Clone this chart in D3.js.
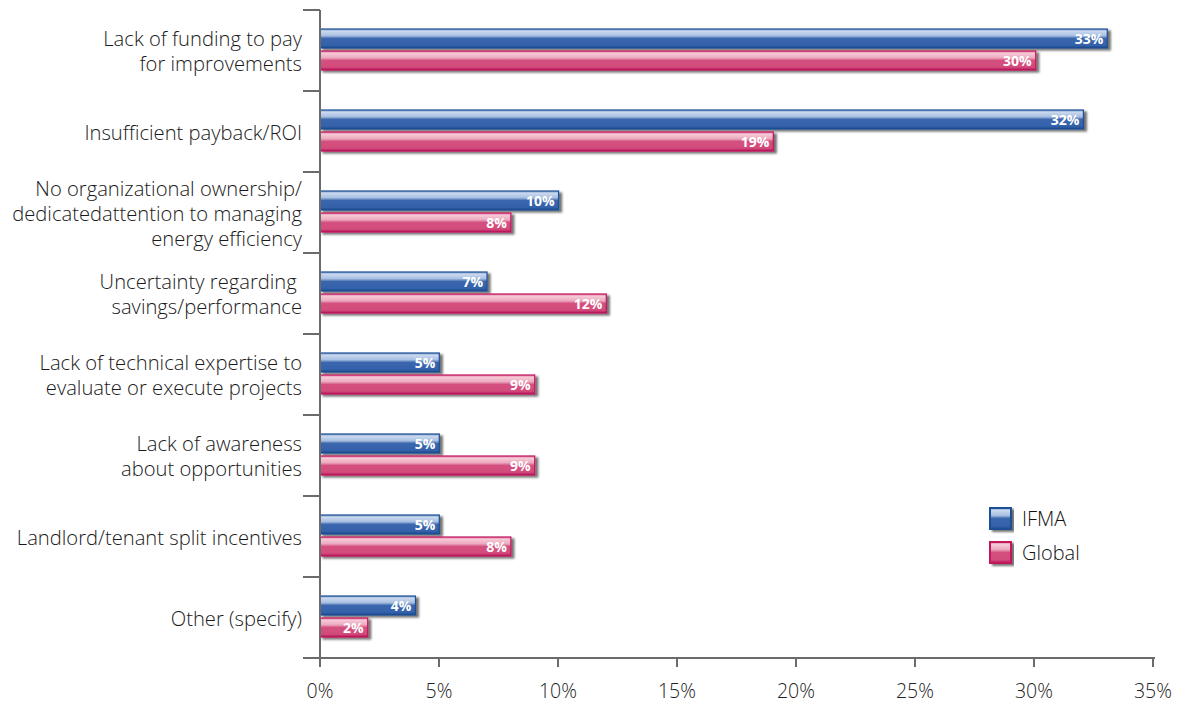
<!DOCTYPE html>
<html><head><meta charset="utf-8">
<script src="https://cdn.jsdelivr.net/npm/d3@7"></script>
<style>body{margin:0;background:#fff}svg{display:block}text{font-family:"Open Sans",sans-serif}</style>
</head><body><svg id="c" width="1182" height="703"></svg>
<script>
const categories = [
  ["Lack of funding to pay","for improvements"],
  ["Insufficient payback/ROI"],
  ["No organizational ownership/","dedicatedattention to managing","energy efficiency"],
  ["Uncertainty regarding ","savings/performance"],
  ["Lack of technical expertise to","evaluate or execute projects"],
  ["Lack of awareness","about opportunities"],
  ["Landlord/tenant split incentives"],
  ["Other (specify)"]
];
const ifma = [33, 32, 10, 7, 5, 5, 5, 4];
const global = [30, 19, 8, 12, 9, 9, 8, 2];
const seriesNames = ["IFMA", "Global"];
const xTicks = [0, 5, 10, 15, 20, 25, 30, 35];

const svg = d3.select("#c");
const x = d3.scaleLinear().domain([0, 35]).range([320, 1153]);
const xb = d3.scaleLinear().domain([0, 35]).range([320, 1155]);
const y = d3.scaleBand().domain(d3.range(categories.length)).range([10, 658]);

const defs = svg.append("defs");
function grad(id, stops){
  const g = defs.append("linearGradient").attr("id", id).attr("x1",0).attr("x2",0).attr("y1",0).attr("y2",1);
  stops.forEach(s => g.append("stop").attr("offset", s[0]).attr("stop-color", s[1]));
}
grad("gb", [[0,"#7d9fd0"],[0.12,"#c9d8ee"],[0.35,"#a9c0e2"],[0.5,"#3a66ad"],[0.85,"#3563ab"],[1,"#1d4a8e"]]);
grad("gp", [[0,"#e07aa0"],[0.12,"#f6c9d7"],[0.35,"#ecabc0"],[0.5,"#d4507f"],[0.85,"#d24c7c"],[1,"#b5115a"]]);
const f = defs.append("filter").attr("id","sh").attr("x","-5%").attr("y","-30%").attr("width","115%").attr("height","180%");
f.append("feDropShadow").attr("dx",3).attr("dy",2).attr("stdDeviation",1.2).attr("flood-color","#000").attr("flood-opacity",0.55);

const colors = [{fill:"url(#gb)", stroke:"#1b4f93"}, {fill:"url(#gp)", stroke:"#c2135d"}];
const bh = 19;
[ifma, global].forEach((vals, si) => {
  const g = svg.append("g");
  g.selectAll("rect").data(vals).join("rect")
    .attr("x", xb(0)).attr("y", (d,i) => y(i) + 19 + si*(bh+3))
    .attr("width", d => xb(d) - xb(0)).attr("height", bh)
    .attr("fill", colors[si].fill).attr("stroke", colors[si].stroke).attr("stroke-width", 1.2)
    .attr("filter", "url(#sh)");
  g.selectAll("text").data(vals).join("text")
    .attr("x", d => xb(d) - 4).attr("y", (d,i) => y(i) + 19 + si*(bh+3) + bh/2 + 5)
    .attr("text-anchor", "end").attr("fill", "#fff").attr("font-size", 14).attr("font-weight", "bold")
    .text(d => d + "%");
});

// axes
const ax = "#6b6b6b";
svg.append("line").attr("x1", 320).attr("x2", 320).attr("y1", 10).attr("y2", 666).attr("stroke", ax).attr("stroke-width", 2);
svg.append("line").attr("x1", 303).attr("x2", 1155).attr("y1", 658).attr("y2", 658).attr("stroke", ax).attr("stroke-width", 2);
svg.selectAll(".yt").data(d3.range(categories.length)).join("line")
  .attr("x1", 303).attr("x2", 320).attr("y1", i => y(i)).attr("y2", i => y(i)).attr("stroke", ax).attr("stroke-width", 2);
svg.selectAll(".xt").data(xTicks).join("line")
  .attr("x1", d => x(d)).attr("x2", d => x(d)).attr("y1", 658).attr("y2", 667).attr("stroke", ax).attr("stroke-width", 2);
svg.selectAll(".xl").data(xTicks).join("text")
  .attr("x", d => x(d)).attr("y", 698).attr("text-anchor", "middle").attr("font-size", 19.5).attr("font-weight", 300).attr("fill", "#222")
  .text(d => d + "%");

// category labels
categories.forEach((lines, i) => {
  const cy = y(i) + y.bandwidth()/2 + 1;
  const lh = 25;
  const t = svg.append("text").attr("text-anchor", "end").attr("font-size", 20.2).attr("font-weight", 300).attr("fill", "#1a1a1a");
  lines.forEach((l, k) => {
    t.append("tspan").attr("x", 302).attr("y", cy - (lines.length-1)*lh/2 + k*lh + 7).text(l);
  });
});

// legend
seriesNames.forEach((n, i) => {
  const ly = 508 + i*34;
  svg.append("rect").attr("x", 990).attr("y", ly).attr("width", 21).attr("height", 21)
    .attr("fill", colors[i].fill).attr("stroke", colors[i].stroke).attr("stroke-width", 2).attr("filter","url(#sh)");
  svg.append("text").attr("x", 1022).attr("y", ly + 18).attr("font-size", 20).attr("font-weight", 300).attr("fill", "#111").text(n);
});
</script></body></html>
